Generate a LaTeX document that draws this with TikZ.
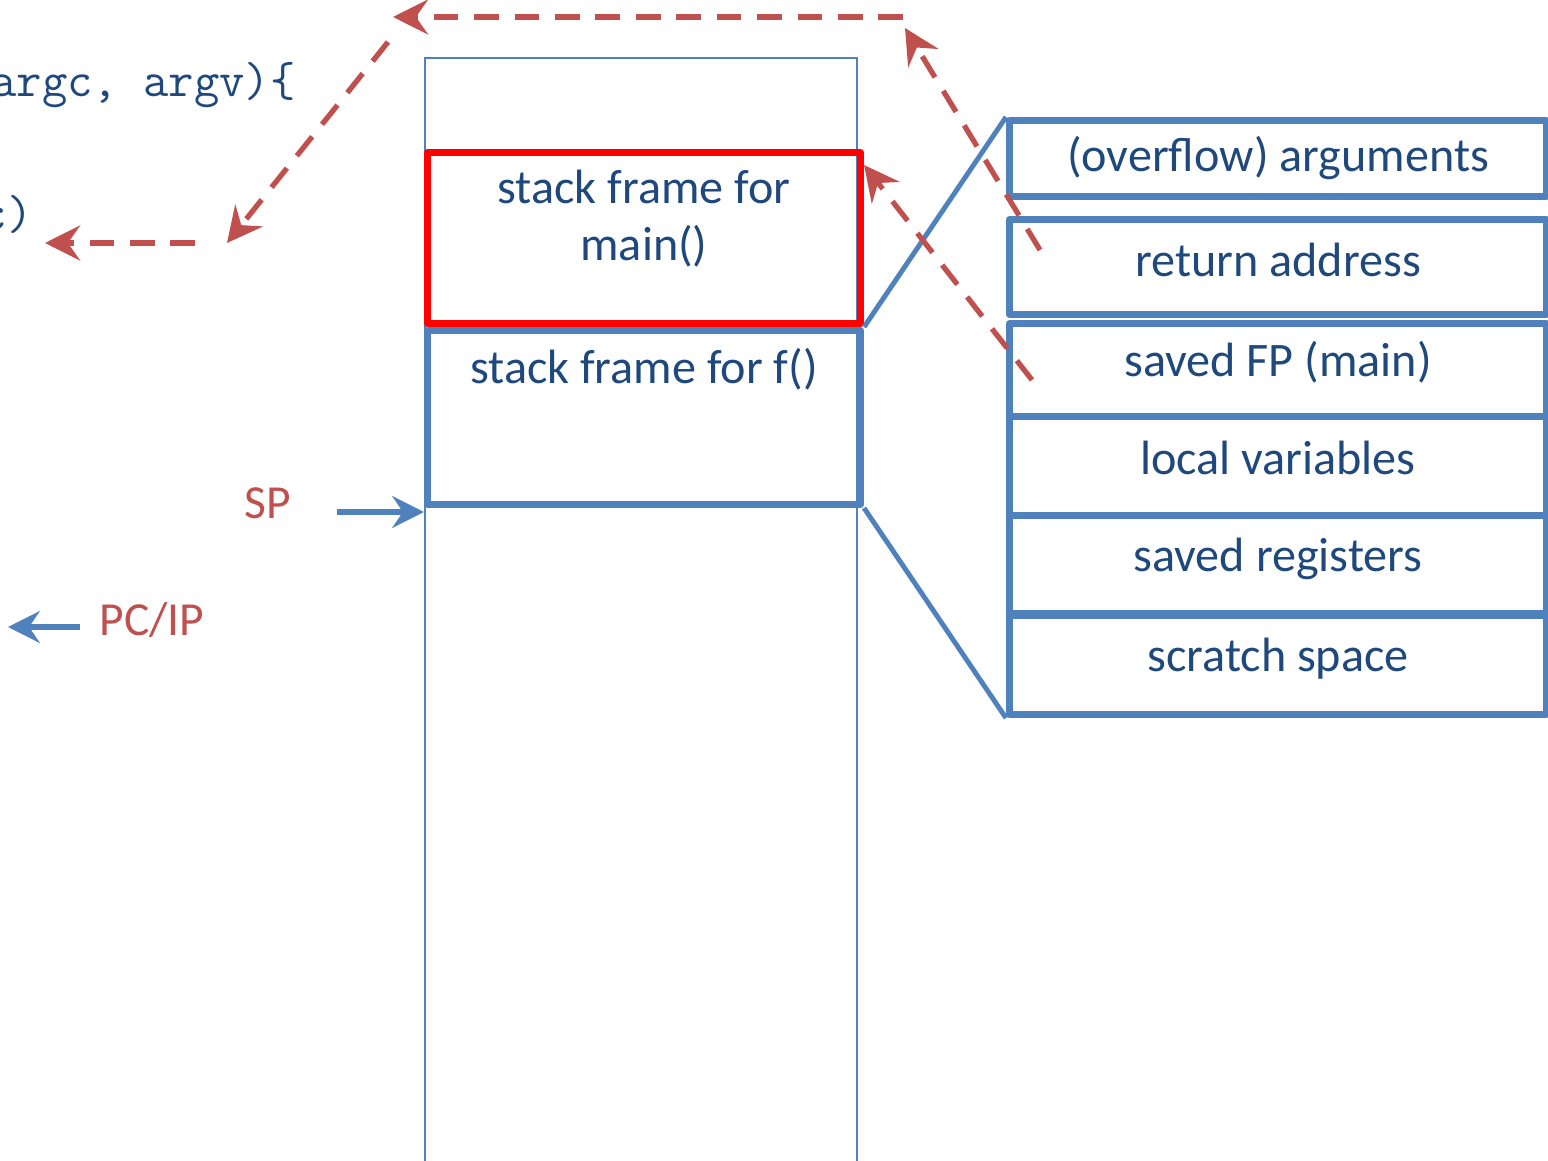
\documentclass[tikz,border=0pt]{standalone}
\usepackage{fontspec}
\setmainfont{Carlito}
\usepackage{tikz}
\usetikzlibrary{arrows.meta,positioning}
\definecolor{FrameBlue}{HTML}{4F81BD}
\definecolor{FrameRed}{HTML}{FF0000}
\definecolor{LinkRed}{HTML}{C0504D}
\definecolor{TextNavy}{HTML}{1F497D}
\tikzset{
  framelabel/.style={font=\fontsize{13.7}{16.2}\selectfont, text=TextNavy},
  codelabel/.style={font=\ttfamily\fontsize{14}{16}\selectfont, text=TextNavy},
  reglabel/.style={font=\fontsize{13.5}{15}\selectfont, text=LinkRed},
  framebox/.style={draw=FrameBlue, line width=2pt, line join=round, minimum width=4.33cm, anchor=north west},
  slotbox/.style={draw=FrameBlue, line width=2pt, line join=round, minimum width=5.37cm, anchor=north west},
  zoomline/.style={draw=FrameBlue, line width=1.4pt},
  ptrarrow/.style={-{Stealth[length=9pt,width=9pt,inset=3pt]}, line width=1.5pt, draw=FrameBlue},
  linkarrow/.style={-{Stealth[length=10pt,width=10pt,inset=3.5pt]}, line width=1.5pt, draw=LinkRed, dash pattern=on 7pt off 4.5pt}
}
\begin{document}
\begin{tikzpicture}[every node/.style={framelabel}]
\useasboundingbox (0,0) rectangle (15.48,-11.61);
% stack column
\node[draw=FrameBlue, line width=0.6pt, minimum width=4.32cm, minimum height=11.4cm, anchor=north west, inner sep=0pt] (column) at (4.24,-0.57) {};
\node[framebox, draw=FrameRed, minimum height=1.71cm, label={[framelabel, align=center, anchor=north, yshift=-0.09cm]north:{stack frame for\\main()}}] (mainf) at (4.24,-1.49) {};
\node[framebox, minimum height=1.74cm, label={[framelabel, anchor=north, yshift=-0.09cm]north:{stack frame for f()}}] (ff) at (4.24,-3.27) {};
% frame layout
\node[slotbox, minimum height=0.76cm] (args) at (10.06,-1.17) {(overflow) arguments};
\node[slotbox, minimum height=0.95cm, label={[yshift=0.07cm]center:return address}] (ret) at (10.06,-2.16) {};
\node[slotbox, minimum height=0.93cm, label={[yshift=0.08cm]center:saved FP (main)}] (savfp) at (10.06,-3.20) {};
\node[slotbox, minimum height=0.99cm, label={[yshift=0.08cm]center:local variables}] (locals) at (10.06,-4.13) {};
\node[slotbox, minimum height=0.98cm, label={[yshift=0.06cm]center:saved registers}] (savreg) at (10.06,-5.12) {};
\node[slotbox, minimum height=0.99cm, label={[yshift=0.06cm]center:scratch space}] (scratch) at (10.06,-6.12) {};
\draw[zoomline] (mainf.south east) -- (args.north west);
\draw[zoomline] (ff.south east) -- (scratch.south west);
% code
\node[codelabel, anchor=east] (callline) at (3.08,-0.85) {argc, argv)\{};
\node[codelabel, anchor=east] (retline) at (0.45,-2.14) {c)};
% registers
\node[reglabel] (sp) at (2.68,-5.03) {SP};
\node[reglabel] (pc) at (1.52,-6.20) {PC/IP};
\coordinate (spfrom) at (3.37,-5.12);
\draw[ptrarrow] (spfrom) -- (spfrom -| column.west);
\coordinate (pcfrom) at (0.80,-6.27);
\coordinate (pcto) at (0.08,-6.27);
\draw[ptrarrow] (pcfrom) -- (pcto);
% return links
\coordinate (retfrom) at (10.40,-2.50);
\coordinate (rettop) at (9.05,-0.28);
\draw[linkarrow] (retfrom) -- (rettop);
\coordinate (topfrom) at (9.03,-0.17);
\coordinate (topto) at (3.93,-0.17);
\draw[linkarrow] (topfrom) -- (topto);
\coordinate (diagfrom) at (3.88,-0.42);
\coordinate (diagto) at (2.27,-2.43);
\draw[linkarrow] (diagfrom) -- (diagto);
\coordinate (backfrom) at (1.95,-2.43);
\coordinate (backto) at (0.45,-2.43);
\draw[linkarrow] (backfrom) -- (backto);
\coordinate (fpfrom) at (10.32,-3.80);
\draw[linkarrow] (fpfrom) -- (mainf.north east |- 0,-1.65);
\end{tikzpicture}
\end{document}
